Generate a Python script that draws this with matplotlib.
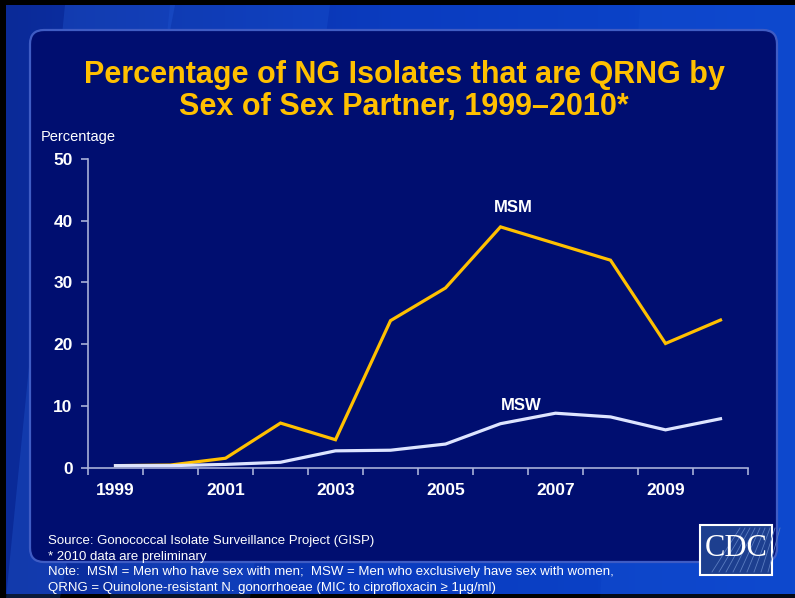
import numpy as np
import matplotlib.pyplot as plt
from matplotlib.patches import FancyBboxPatch, Rectangle, Polygon
from matplotlib.colors import LinearSegmentedColormap

years = [1999, 2000, 2001, 2002, 2003, 2004, 2005, 2006, 2007, 2008, 2009, 2010]
msm = [0.3, 0.4, 1.5, 7.2, 4.5, 23.8, 29.1, 39.0, 36.3, 33.6, 20.1, 23.9]
msw = [0.3, 0.3, 0.5, 0.85, 2.7, 2.8, 3.8, 7.1, 8.8, 8.2, 6.1, 7.9]
year_labels = ['1999', '2001', '2003', '2005', '2007', '2009']

title = 'Percentage of NG Isolates that are QRNG by\nSex of Sex Partner, 1999\u20132010*'
notes = ['Source: Gonococcal Isolate Surveillance Project (GISP)',
         '* 2010 data are preliminary',
         'Note:  MSM = Men who have sex with men;  MSW = Men who exclusively have sex with women,',
         'QRNG = Quinolone-resistant N. gonorrhoeae (MIC to ciprofloxacin \u2265 1\u00b5g/ml)']

W, H = 795, 598
fig = plt.figure(figsize=(W / 100, H / 100), dpi=100)
fig.patch.set_facecolor('black')

# slide background, pixel coordinates
bg = fig.add_axes([0, 0, 1, 1], zorder=0)
bg.set_xlim(0, W)
bg.set_ylim(H, 0)
bg.axis('off')
grad = np.linspace(0, 1, 256)[None, :]
cmap = LinearSegmentedColormap.from_list('slide', ['#0a2a98', '#0a3cc0', '#0a46cc'])
bg.imshow(grad, extent=(6, W, H - 4, 5), cmap=cmap, aspect='auto', zorder=0)
for pts, a in [([(65, 5), (175, 5), (60, 598), (6, 598)], 0.25),
               ([(170, 5), (330, 5), (250, 598), (110, 598)], 0.18),
               ([(640, 5), (795, 5), (795, 598), (600, 598)], 0.10)]:
    bg.add_patch(Polygon(pts, closed=True, facecolor='#2a6ae8', alpha=a, lw=0, zorder=1))
bg.add_patch(FancyBboxPatch((30, 30), 747, 532, boxstyle='round,pad=0,rounding_size=14',
                            facecolor='#000e70', edgecolor='#3f5cc4', lw=1.6, zorder=2))

# CDC logo
bg.add_patch(Rectangle((700, 525), 72, 50, facecolor='#1d3f8f', edgecolor='white', lw=1.5, zorder=3))
for k in range(9):
    bg.plot([712 + k * 7, 740 + k * 5], [572, 528], color='#5a7cc0', lw=0.6, zorder=3)
bg.text(736, 548, 'CDC', color='white', fontsize=22, family='Liberation Serif',
        ha='center', va='center', zorder=4)

fig.text(404 / W, 1 - 91 / H, title, color='#ffc000', fontsize=22, fontweight='bold',
         family='Liberation Sans', ha='center', va='center', linespacing=1.07)
fig.text(41 / W, 1 - 137 / H, 'Percentage', color='white', fontsize=10.5,
         family='Liberation Sans', ha='left', va='center')
for i, s in enumerate(notes):
    fig.text(48 / W, 1 - (541 + 15.7 * i) / H, s, color='white', fontsize=9.5,
             family='Liberation Sans', ha='left', va='center')

ax = fig.add_axes([88 / W, 1 - 467.5 / H, 660 / W, 308.5 / H], zorder=5)
ax.patch.set_alpha(0)
x = np.arange(len(years))
ax.plot(x, msm, color='#ffc000', lw=2.3, solid_joinstyle='miter')
ax.plot(x, msw, color='#dde4ff', lw=2.3, solid_joinstyle='miter')
ax.text(7.23, 42.2, 'MSM', color='white', fontsize=12, fontweight='bold',
        family='Liberation Sans', ha='center', va='center')
ax.text(7.37, 10.0, 'MSW', color='white', fontsize=12, fontweight='bold',
        family='Liberation Sans', ha='center', va='center')

ax.set_xlim(-0.5, len(years) - 0.5)
ax.set_ylim(0, 50)
ax.set_yticks(range(0, 51, 10))
ax.set_xticks(np.arange(-0.5, len(years), 1))
ax.set_xticklabels([])
ax.set_xticks(x[::2], minor=True)
ax.set_xticklabels(year_labels, minor=True)
for s in ['top', 'right']:
    ax.spines[s].set_visible(False)
for s in ['left', 'bottom']:
    ax.spines[s].set_color('#a8b0d8')
    ax.spines[s].set_linewidth(1.2)
ax.tick_params(axis='both', which='major', color='#a8b0d8', length=5, width=1.2, direction='out')
ax.tick_params(axis='y', labelcolor='white', labelsize=12.5, pad=6)
ax.tick_params(axis='x', which='minor', length=0, labelcolor='white', labelsize=12.5, pad=11)
for lab in ax.get_yticklabels() + ax.get_xticklabels(minor=True):
    lab.set_fontweight('bold')
    lab.set_family('Liberation Sans')

fig.savefig('out.png', dpi=100, facecolor=fig.get_facecolor())
